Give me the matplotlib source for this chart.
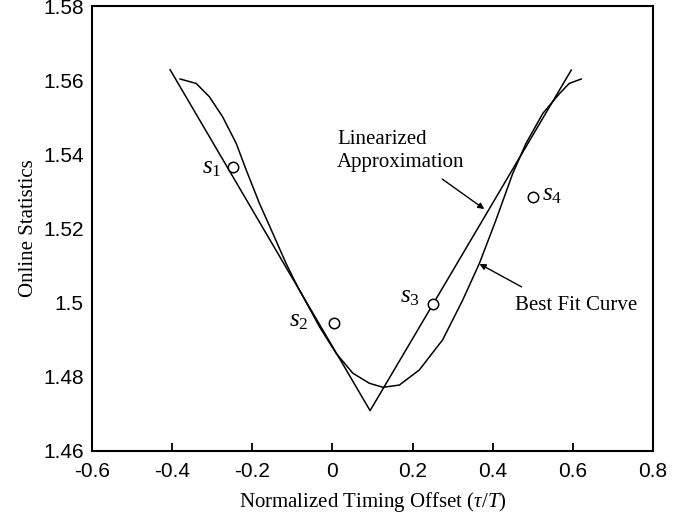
import matplotlib
matplotlib.use("Agg")
import matplotlib.pyplot as plt

plt.rcParams['mathtext.fontset'] = 'custom'
plt.rcParams['mathtext.rm'] = 'Liberation Serif'
plt.rcParams['mathtext.it'] = 'Liberation Serif:italic'

# best fit curve
fit_x = [-0.380, -0.340, -0.307, -0.274, -0.240, -0.215, -0.182, -0.149, -0.116,
         -0.095, -0.082, -0.032, 0.009, 0.051, 0.092, 0.126, 0.167, 0.217, 0.275,
         0.325, 0.367, 0.408, 0.450, 0.483, 0.525, 0.567, 0.591, 0.621]
fit_y = [1.5603, 1.5591, 1.5555, 1.5501, 1.5429, 1.5357, 1.5267, 1.5187, 1.5106,
         1.5060, 1.5033, 1.4934, 1.4863, 1.4809, 1.4782, 1.4771, 1.4777, 1.4818, 1.4899,
         1.5006, 1.5106, 1.5222, 1.5348, 1.5429, 1.5510, 1.5564, 1.5591, 1.5603]

# linearized approximation
lin_x = [-0.405, 0.094, 0.596]
lin_y = [1.5628, 1.4708, 1.5627]

# samples
s_x = [-0.249, 0.003, 0.252, 0.500]
s_y = [1.5366, 1.4945, 1.4995, 1.5285]
s_names = ['$s_1$', '$s_2$', '$s_3$', '$s_4$']
s_offsets = [(-15, 0), (-25, 2), (-17, 6), (14, 2)]

fig = plt.figure(figsize=(6.98, 5.18), dpi=100)
ax = fig.add_axes([0.1318, 0.13, 0.8037, 0.8584])

ax.plot(lin_x, lin_y, color='black', lw=1.1)
ax.plot(fit_x, fit_y, color='black', lw=1.1)
ax.plot(s_x, s_y, 'o', mfc='white', mec='black', ms=7.5, mew=1.1, ls='none')

for x, y, name, off in zip(s_x, s_y, s_names, s_offsets):
    ax.annotate(name, (x, y), xytext=off, textcoords='offset points',
                ha='center', va='center', fontsize=18)

arrow = dict(arrowstyle='-|>', color='black', lw=1.0, mutation_scale=9, shrinkA=0, shrinkB=0)
ax.annotate('', xy=(0.379, 1.5252), xytext=(0.274, 1.5333), arrowprops=arrow)
ax.text(0.012, 1.5409, 'Linearized\nApproximation', fontsize=15, family='Liberation Serif',
        ha='left', va='center', linespacing=1.25)
ax.annotate('', xy=(0.367, 1.5104), xytext=(0.472, 1.5042), arrowprops=arrow)
ax.text(0.609, 1.4993, 'Best Fit Curve', fontsize=15, family='Liberation Serif',
        ha='center', va='center')

ax.set_xlim(-0.6, 0.8)
ax.set_ylim(1.46, 1.58)
ax.set_xticks([-0.6, -0.4, -0.2, 0, 0.2, 0.4, 0.6, 0.8])
ax.set_xticklabels(['-0.6', '-0.4', '-0.2', '0', '0.2', '0.4', '0.6', '0.8'])
ax.set_yticks([1.46, 1.48, 1.5, 1.52, 1.54, 1.56, 1.58])
ax.set_yticklabels(['1.46', '1.48', '1.5', '1.52', '1.54', '1.56', '1.58'])
ax.tick_params(axis='x', direction='in', length=6, width=1.3, pad=8,
               labelsize=15, labelfontfamily='Liberation Sans')
ax.tick_params(axis='y', length=0, pad=6, labelsize=15, labelfontfamily='Liberation Sans')
for s in ax.spines.values():
    s.set_linewidth(1.5)

ax.set_xlabel(r'Normalized Timing Offset $(\tau/T)$', fontsize=15, family='Liberation Serif')
ax.xaxis.set_label_coords(0.5, -0.088)
ax.set_ylabel('Online Statistics', fontsize=15, family='Liberation Serif')
ax.yaxis.set_label_coords(-0.097, 0.5)

fig.savefig('out.png', dpi=100)
